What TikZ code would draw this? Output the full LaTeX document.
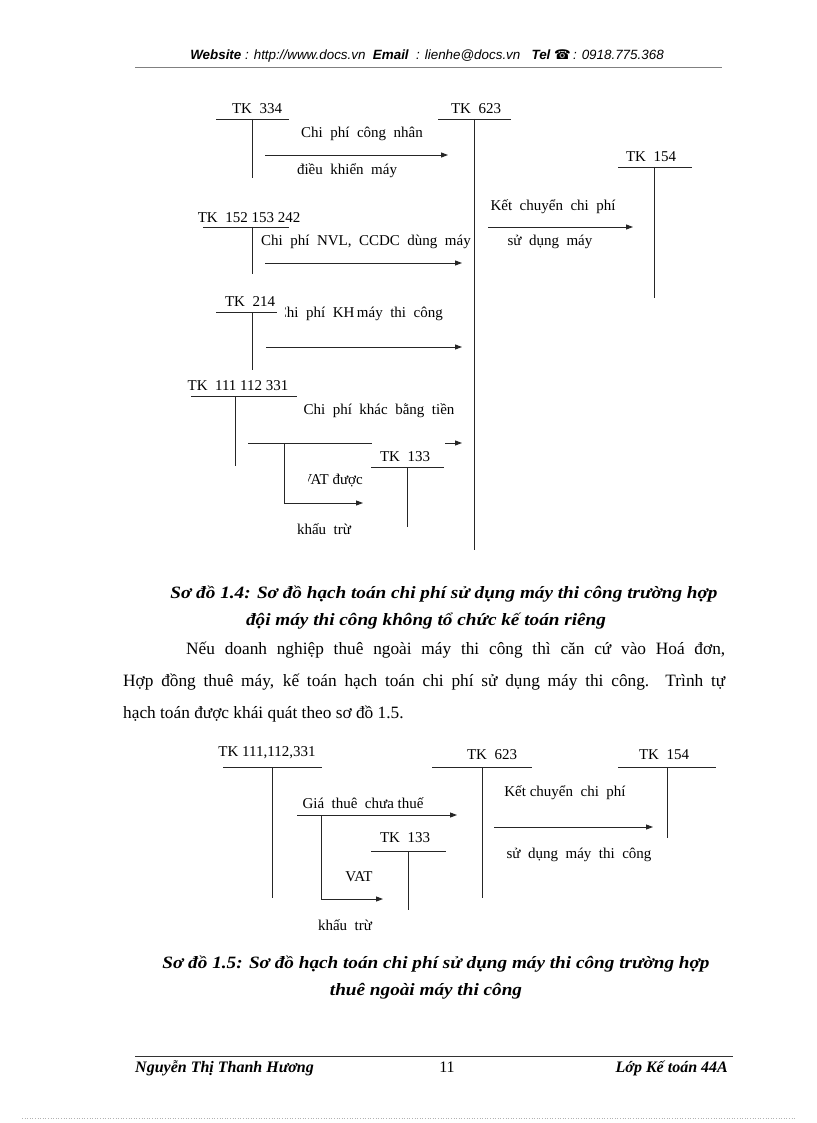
\documentclass[tikz,border=0pt]{standalone}
\usepackage{graphicx}
\usepackage{fontspec}
\setmainfont{Liberation Serif}
\newfontfamily\hdrfont{Liberation Sans}
\newfontfamily\symfont{DejaVu Sans}
\usetikzlibrary{arrows.meta}
\newcommand\capwide[1]{\scalebox{1.11}[1]{#1}}
\begin{document}
\begin{tikzpicture}[x=1pt,y=-1pt,
  acct/.style={line width=0.9pt, draw=black!85},
  flow/.style={line width=0.9pt, draw=black!85, -{Triangle[length=7pt,width=5pt]}},
  lineonly/.style={line width=0.9pt, draw=black!85},
  lbl/.style={inner sep=0pt, font=\fontsize{15}{18}\selectfont},
  captext/.style={inner sep=0pt, anchor=base, font=\fontsize{17.3}{20}\selectfont\bfseries\itshape},
  paratext/.style={inner sep=0pt, anchor=base west, font=\fontsize{17.3}{20}\selectfont},
  foottext/.style={inner sep=0pt, anchor=base, font=\fontsize{16}{18}\selectfont},
]
\useasboundingbox (0,0) rectangle (816,1123);
\fill[white] (0,0) rectangle (816,1123);

% ---------- header ----------
\node[inner sep=0pt, anchor=base] (hdr) at (427,60) {\hdrfont\fontsize{13.4}{15}\selectfont\itshape \textbf{Website} : http://www.docs.vn\ \ \textbf{Email}\ \ : lienhe@docs.vn\ \ \ \textbf{Tel} {\symfont\upshape ☎}\,: 0918.775.368};
\draw[gray, line width=0.6pt] (135,67) -- (722,67);

% ---------- diagram 1.4 ----------
\node[lbl] (t334) at (257,109) {TK\ \ 334};
\node[lbl] (t623) at (476,109) {TK\ \ 623};
\node[lbl] (t154) at (651,157) {TK\ \ 154};
\node[lbl] (t152) at (249,218) {TK\ \ 152 153 242};
\node[lbl] (t214) at (250,302) {TK\ \ 214};
\node[lbl] (t111) at (238,386) {TK\ \ 111 112 331};
\node[lbl] (t133) at (405,457) {TK\ \ 133};

\draw[acct] (216,119) -- (289,119) (252,119) -- (252,178);
\draw[acct] (438,119) -- (511,119) (474,119) -- (474,550);
\draw[acct] (618,167) -- (692,167) (654,167) -- (654,298);
\draw[acct] (203,227) -- (289,227) (252,227) -- (252,274);
\draw[acct] (216,312) -- (277,312) (252,312) -- (252,370);
\draw[acct] (191,396) -- (297,396) (235,396) -- (235,466);
\draw[acct] (371,467) -- (444,467) (407,467) -- (407,527);

\coordinate (a1s) at (265,155); \coordinate (a1e) at (448,155);
\coordinate (a2s) at (265,263); \coordinate (a2e) at (462,263);
\coordinate (a3s) at (266,347); \coordinate (a3e) at (462,347);
\coordinate (a4s) at (248,443); \coordinate (a4m) at (372,443);
\coordinate (a4t) at (445,443); \coordinate (a4e) at (462,443);
\coordinate (b4s) at (284,443); \coordinate (b4c) at (284,503); \coordinate (b4e) at (363,503);
\coordinate (a5s) at (488,227); \coordinate (a5e) at (633,227);

\draw[flow] (a1s) -- (a1e);
\draw[flow] (a2s) -- (a2e);
\draw[flow] (a3s) -- (a3e);
\draw[lineonly] (a4s) -- (a4m);
\draw[flow] (a4t) -- (a4e);
\draw[flow] (b4s) -- (b4c) -- (b4e);
\draw[flow] (a5s) -- (a5e);

\node[lbl] (l1a) at (362,134) {Chi\ \ phí\ \ công\ \ nhân};
\node[lbl] (l1b) at (347,171) {điều\ \ khiển\ \ máy};
\node[lbl] (l2) at (366,242) {Chi\ \ phí\ \ NVL,\ \ CCDC\ \ dùng\ \ máy};
\begin{scope}
  \clip (285,295) rectangle (470,330);
  \node[lbl, anchor=east] (l3) at (443,314) {Chi\ \ phí\ \ KH\,máy\ \ thi\ \ công};
\end{scope}
\node[lbl] (l4) at (379,411) {Chi\ \ phí\ \ khác\ \ bằng\ \ tiền};
\begin{scope}
  \clip (308,465) rectangle (370,495);
  \node[lbl, anchor=east] (l5) at (363,481) {VAT\ được};
\end{scope}
\node[lbl] (l6) at (324,529) {khấu\ \ trừ};
\node[lbl] (l7) at (553,207) {Kết\ \ chuyển\ \ chi\ \ phí};
\node[lbl] (l8) at (550,242) {sử\ \ dụng\ \ máy};

% ---------- captions / paragraph ----------
\node[captext] (c1a) at (444,598) {\capwide{Sơ đồ 1.4: Sơ đồ hạch toán chi phí sử dụng máy thi công trường hợp}};
\node[captext] (c1b) at (426,625) {\capwide{đội máy thi công không tổ chức kế toán riêng}};

\node[paratext] (p1) at (186,654) {\makebox[539pt][s]{Nếu doanh nghiệp thuê ngoài máy thi công thì căn cứ vào Hoá đơn,}};
\node[paratext] (p2) at (123,686) {\makebox[602pt][s]{Hợp đồng thuê máy, kế toán hạch toán chi phí sử dụng máy thi công. Trình tự}};
\node[paratext] (p3) at (123,718) {hạch toán được khái quát theo sơ đồ 1.5.};

% ---------- diagram 1.5 ----------
\node[lbl] (u111) at (267,753) {TK 111,112,331};
\node[lbl] (u623) at (492,755) {TK\ \ 623};
\node[lbl] (u154) at (664,755) {TK\ \ 154};
\node[lbl] (u133) at (405,838) {TK\ \ 133};

\draw[acct] (223,767) -- (322,767) (272,767) -- (272,898);
\draw[acct] (432,767) -- (532,767) (482,767) -- (482,898);
\draw[acct] (618,767) -- (716,767) (667,767) -- (667,838);
\draw[acct] (371,851) -- (446,851) (408,851) -- (408,910);

\coordinate (d1s) at (297,815); \coordinate (d1e) at (457,815);
\coordinate (d2s) at (321,815); \coordinate (d2c) at (321,899); \coordinate (d2e) at (383,899);
\coordinate (d3s) at (494,827); \coordinate (d3e) at (653,827);

\draw[flow] (d1s) -- (d1e);
\draw[flow] (d2s) -- (d2c) -- (d2e);
\draw[flow] (d3s) -- (d3e);

\node[lbl] (m1) at (363,803) {Giá\ \ thuê\ \ chưa thuế};
\node[lbl] (m2) at (359,877) {VAT};
\node[lbl] (m3) at (345,925) {khấu\ \ trừ};
\node[lbl] (m4) at (565,793) {Kết chuyển\ \ chi\ \ phí};
\node[lbl] (m5) at (579,855) {sử\ \ dụng\ \ máy\ \ thi\ \ công};

\node[captext] (c2a) at (436,968) {\capwide{Sơ đồ 1.5: Sơ đồ hạch toán chi phí sử dụng máy thi công trường hợp}};
\node[captext] (c2b) at (426,995) {\capwide{thuê ngoài máy thi công}};

% ---------- footer ----------
\draw[black!80, line width=0.8pt] (135,1056) -- (733,1056);
\node[foottext, anchor=base west] (f1) at (135,1072) {\bfseries\itshape Nguyễn Thị Thanh Hương};
\node[foottext] (f2) at (447,1072) {11};
\node[foottext, anchor=base east] (f3) at (728,1072) {\bfseries\itshape Lớp Kế toán 44A};
\draw[gray!60, dotted, line width=0.6pt] (22,1118) -- (796,1118);
\end{tikzpicture}
\end{document}
